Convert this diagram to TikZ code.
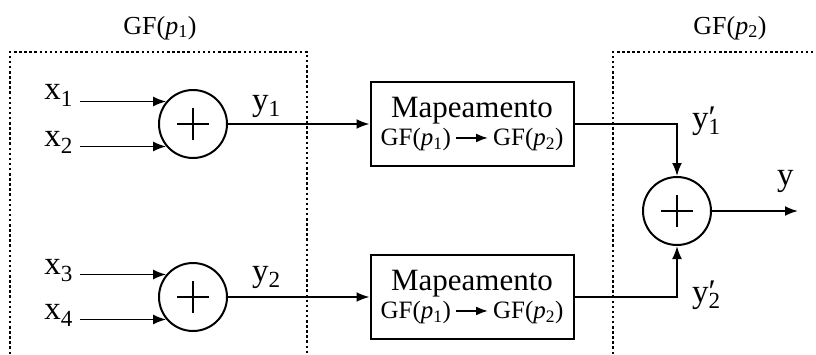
\documentclass[tikz,border=0pt]{standalone}
\usepackage{fontspec}
\setmainfont{Liberation Serif}
\usepackage{tikz}
\usetikzlibrary{arrows.meta,positioning}

\newcommand\maparrow{\tikz[baseline=-8pt,x=1pt,y=1pt]\draw[line width=1.8pt,-{Latex[length=12pt,width=9pt]}] (0,0) -- (32,0);}
\newcommand\gfp[1]{GF(\textit{p}\textsubscript{#1})}

\begin{document}
\begin{tikzpicture}[x=1pt,y=-1pt,
		adder/.style = {draw, circle, line width=2pt, minimum size=68pt, inner sep=0pt,
			path picture={\draw[line width=1.3pt] (path picture bounding box.center) +(-16,0) -- +(16,0)
				(path picture bounding box.center) +(0,-16) -- +(0,16);}},
		mapbox/.style = {draw, rectangle, line width=2pt, minimum width=203pt, minimum height=84pt, align=center, inner sep=0pt},
		arr/.style = {line width=1.9pt, -{Latex[length=13pt,width=10pt]}},
		zone/.style = {line width=2pt, dash pattern=on 2.5pt off 2.6pt},
		lbl/.style = {inner sep=0pt, font=\fontsize{33}{36}\selectfont},
		gflbl/.style = {inner sep=0pt, font=\fontsize{26}{30}\selectfont}]
		\useasboundingbox (0,0) rectangle (816,354);
		% dotted zones
		\draw[zone] (10,354) -- (10,52) -- (307,52) -- (307,354);
		\draw[zone] (613,354) -- (613,52) -- (816,52);
		\node[gflbl] (gf1) at (160,28) {\gfp{1}};
		\node[gflbl] (gf2) at (730,28) {\gfp{2}};
		% blocks
		\node[adder] (add1) at (193,124) {};
		\node[adder] (add2) at (193,297) {};
		\node[adder] (add3) at (677,211) {};
		\node[mapbox] (map1) at (472,124) {{\fontsize{31}{33}\selectfont Mapeamento}\\[4pt]{\fontsize{25}{28}\selectfont \gfp{1}\,\maparrow\,\gfp{2}}};
		\node[mapbox] (map2) at (472,297) {{\fontsize{31}{33}\selectfont Mapeamento}\\[4pt]{\fontsize{25}{28}\selectfont \gfp{1}\,\maparrow\,\gfp{2}}};
		\coordinate (in) at (80,0);
		\coordinate (out) at (798,0);
		% inputs
		\draw[arr] (in |- add1.140) -- (add1.140);
		\draw[arr] (in |- add1.220) -- (add1.220);
		\draw[arr] (in |- add2.140) -- (add2.140);
		\draw[arr] (in |- add2.220) -- (add2.220);
		\node[lbl, anchor=base east] (x1) at ([xshift=-7pt,yshift=2pt]in |- add1.140) {x\textsubscript{1}};
		\node[lbl, anchor=base east] (x2) at ([xshift=-7pt]in |- add1.220) {x\textsubscript{2}};
		\node[lbl, anchor=base east] (x3) at ([xshift=-7pt]in |- add2.140) {x\textsubscript{3}};
		\node[lbl, anchor=base east] (x4) at ([xshift=-7pt]in |- add2.220) {x\textsubscript{4}};
		% mapping
		\draw[arr] (add1) -- (map1);
		\draw[arr] (add2) -- (map2);
		\node[lbl, anchor=base west] (y1) at (252,110) {y\textsubscript{1}};
		\node[lbl, anchor=base west] (y2) at (252,281) {y\textsubscript{2}};
		\draw[arr] (map1.east) -| (add3.north);
		\draw[arr] (map2.east) -| (add3.south);
		\node[lbl, anchor=base west] (yp1) at (692,128) {y\rlap{′}\textsubscript{1}};
		\node[lbl, anchor=base west] (yp2) at (692,302) {y\rlap{′}\textsubscript{2}};
		% output
		\draw[arr] (add3) -- (add3 -| out);
		\node[lbl, anchor=base west] (y) at (777,185) {y};
\end{tikzpicture}
\end{document}
